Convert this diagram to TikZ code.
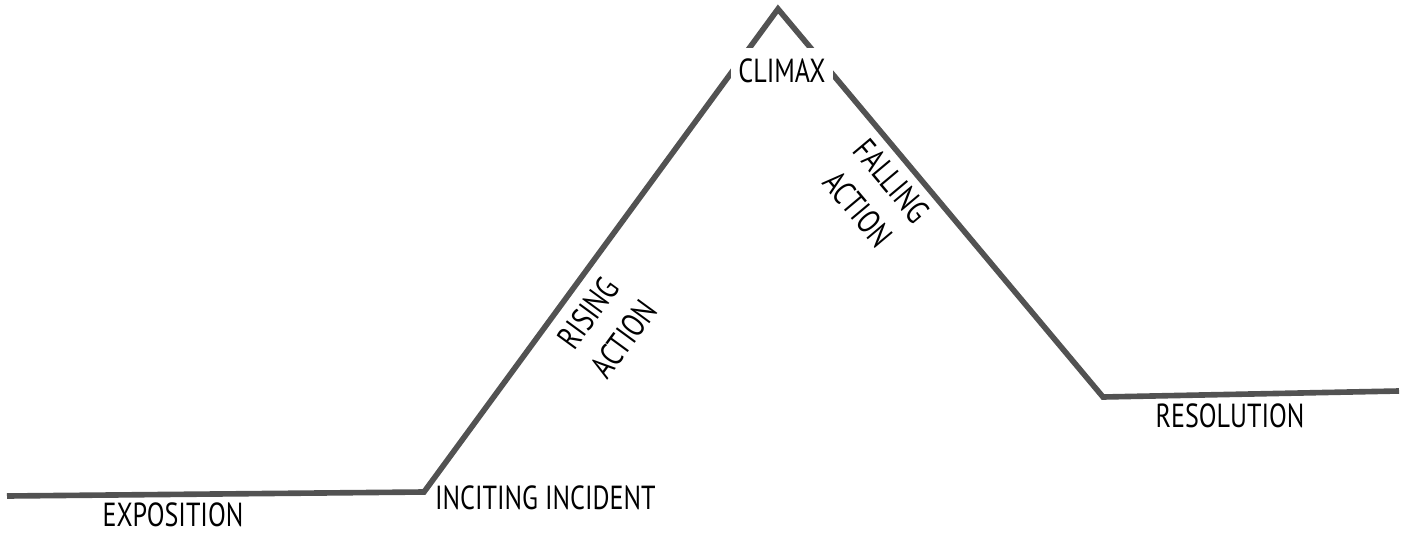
\documentclass[tikz,border=0pt]{standalone}
\usepackage{fontspec}
\setmainfont[FakeStretch=0.78]{PT Sans}
\usetikzlibrary{positioning}

\tikzset{
  arc line/.style={line width=3.2pt, draw=black!68, line join=miter},
  arc text/.style={font=\fontsize{19}{25}\selectfont, inner sep=1pt, align=center}
}

\begin{document}
\begin{tikzpicture}[x=0.02cm, y=-0.02cm]
  \useasboundingbox (0,0) rectangle (1406,534);
  % turning points of the plot line
  \coordinate (start) at (7,496);
  \coordinate (incite) at (424,492);
  \coordinate (peak) at (778,9);
  \coordinate (resolve) at (1103,397);
  \coordinate (finish) at (1399,391);
  \draw[arc line] (start) -- (incite) -- (peak) -- (resolve) -- (finish);
  % labels
  \node[arc text] (expo) at (173,515) {EXPOSITION};
  \node[arc text, anchor=west] (inc) at (433,498) {INCITING INCIDENT};
  \node[arc text, fill=white, inner xsep=4pt, inner ysep=6pt] (climax) at (782,71) {CLIMAX};
  \node[arc text, rotate=53.8] (rising) at (606,326) {RISING\\ACTION};
  \node[arc text, rotate=-50] (falling) at (875,195) {FALLING\\ACTION};
  \node[arc text] (resol) at (1230,416) {RESOLUTION};
\end{tikzpicture}
\end{document}
